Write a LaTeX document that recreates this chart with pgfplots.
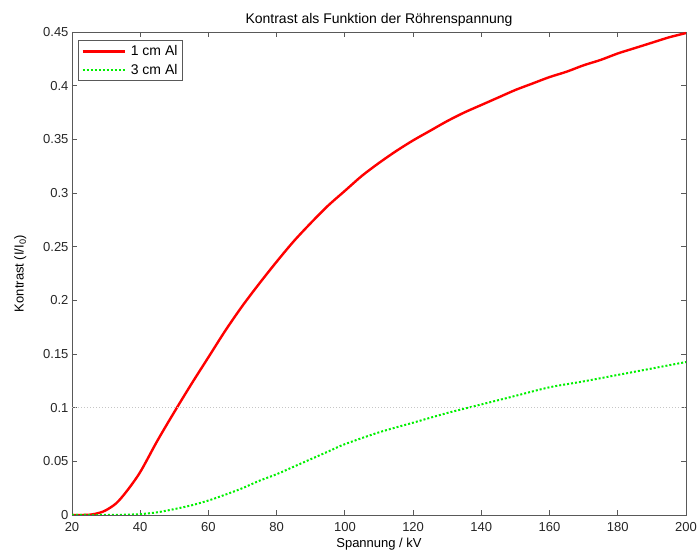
\documentclass[border=0pt]{standalone}
\usepackage{fontspec}
\setmainfont{Liberation Sans}
\usepackage{pgfplots}
\pgfplotsset{compat=1.18}

\begin{document}
\begin{tikzpicture}
\begin{axis}[
    scale only axis,
    width=614pt, height=483pt,
    xmin=20, xmax=200, ymin=0, ymax=0.45,
    xtick={20,40,...,200},
    ytick={0,0.05,...,0.45},
    yticklabel style={/pgf/number format/.cd,fixed,precision=2},
    xticklabel style={yshift=-4pt},
    /pgf/number format/assume math mode=true,
    tick align=inside,
    major tick length=5pt,
    axis line style={black!65, line width=0.8pt},
    tick style={black!65, line width=0.8pt},
    font=\fontsize{13}{15}\selectfont,
    tick label style={black!85},
    title={Kontrast als Funktion der Röhrenspannung},
    title style={yshift=-4pt, font=\fontsize{14}{16}\selectfont},
    xlabel={Spannung / kV},
    ylabel={Kontrast (I/I\textsubscript{0})},
    xlabel style={yshift=1pt},
    ylabel style={yshift=10pt},
    legend style={at={(0.0098,0.983)}, anchor=north west, draw=black!65,
        line width=0.8pt, font=\fontsize{14}{16}\selectfont,
        row sep=3pt, inner sep=3pt},
    legend cell align=left,
    legend image code/.code={\draw[#1] (0pt,0pt) -- (42pt,0pt); \path (45pt,0pt);},
]
\addplot[red, line width=2.4pt, smooth, tension=0.5] coordinates {
(20,0) (25,0.0002) (28,0.002) (30,0.0045) (33,0.011) (36,0.022) (40,0.040)
(45,0.069) (50,0.096) (55,0.122) (60,0.147) (65,0.172) (70,0.195) (75,0.216)
(80,0.236) (85,0.255) (90,0.272) (95,0.288) (100,0.302) (105,0.316) (110,0.328)
(115,0.339) (120,0.349) (125,0.358) (130,0.367) (135,0.375) (140,0.382)
(145,0.389) (150,0.396) (155,0.402) (160,0.408) (165,0.413) (170,0.419)
(175,0.424) (180,0.430) (185,0.435) (190,0.440) (195,0.445) (200,0.449)};
\addlegendentry{1 cm Al}
\addplot[green!90!black!60!green, line width=2pt, dotted, smooth, tension=0.5] coordinates {
(20,0) (30,0) (35,0.0002) (40,0.0008) (45,0.0025) (50,0.0055) (55,0.009)
(60,0.0135) (65,0.019) (70,0.025) (75,0.032) (80,0.038) (85,0.045) (90,0.052)
(95,0.059) (100,0.066) (110,0.077) (120,0.086) (130,0.095) (140,0.103)
(150,0.111) (160,0.119) (170,0.1245) (180,0.1305) (190,0.1365) (200,0.1425)};
\addlegendentry{3 cm Al}
\addplot[gray!45, line width=1pt, dotted, forget plot] coordinates {(20,0.1) (200,0.1)};
\end{axis}
\pgfresetboundingbox
\path[use as bounding box] ([xshift=-72pt,yshift=-39pt]current axis.south west)
    rectangle ([xshift=13pt,yshift=32pt]current axis.north east);
\end{tikzpicture}
\end{document}
